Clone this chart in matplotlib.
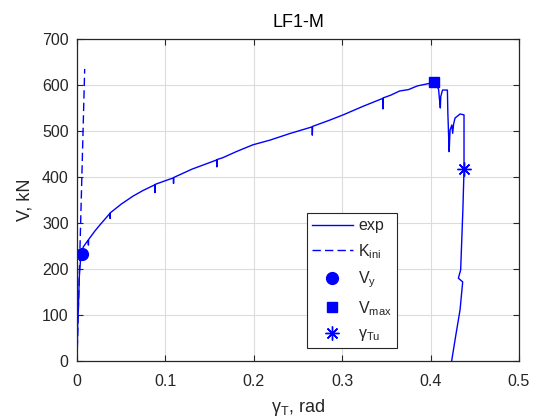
import matplotlib
matplotlib.use("Agg")
import matplotlib.pyplot as plt

exp_x = [0, 0.0008, 0.0015, 0.0026, 0.0040, 0.0053, 0.0071, 0.0100, 0.0128, 0.0129, 0.0131,
         0.020, 0.026, 0.0373, 0.0374, 0.0376, 0.050, 0.063, 0.075, 0.088, 0.0882, 0.0885,
         0.100, 0.109, 0.1092, 0.1095, 0.130, 0.158, 0.1582, 0.1585, 0.165, 0.180, 0.199,
         0.218, 0.240, 0.266, 0.2662, 0.2665, 0.285, 0.301, 0.324, 0.346, 0.3462, 0.3465,
         0.355, 0.365, 0.375, 0.385, 0.400, 0.404, 0.409, 0.410, 0.411, 0.4115, 0.4135,
         0.419, 0.4195, 0.421, 0.4215, 0.422, 0.424, 0.425, 0.426, 0.4276, 0.4333, 0.4378,
         0.4378, 0.4365, 0.434, 0.4314, 0.4363, 0.4333, 0.428, 0.4238]
exp_v = [0, 80, 111, 183, 220, 233, 248, 256, 263, 252, 264,
         282, 296, 321, 310, 322, 341, 358, 371, 383, 366, 384,
         392, 398, 386, 399, 417, 437, 422, 438, 442, 455, 470,
         480, 494, 509, 491, 510, 523, 535, 554, 571, 548, 572,
         578, 587, 590, 598, 604, 606, 591, 570, 550, 575, 589,
         589, 540, 455, 480, 502, 513, 495, 515, 528, 537, 535,
         415, 328, 198, 180, 172, 111, 50, 0]

kini_x = [0, 0.0087]
kini_v = [0, 635]

vy = (0.0053, 233)
vmax = (0.404, 606)
gamma_tu = (0.438, 417)

xticks = [0, 0.1, 0.2, 0.3, 0.4, 0.5]
xticklabels = ["0", "0.1", "0.2", "0.3", "0.4", "0.5"]
yticks = [0, 100, 200, 300, 400, 500, 600, 700]

plt.rcParams["font.family"] = ["Liberation Sans", "DejaVu Sans"]
plt.rcParams["mathtext.fontset"] = "custom"
plt.rcParams["mathtext.rm"] = "Liberation Sans"
plt.rcParams["mathtext.it"] = "Liberation Sans"

dark = "#262626"
fig = plt.figure(figsize=(5.37, 4.17), dpi=100)
ax = fig.add_axes([77 / 537, 56 / 417, 442 / 537, 322 / 417])

ax.plot(exp_x, exp_v, color="b", lw=1.0, label="exp")
ax.plot(kini_x, kini_v, color="b", lw=1.0, dashes=(6, 3), label=r"K$_{\mathrm{ini}}$")
ax.plot(*vy, "o", color="b", ms=8.5, ls="none", label=r"V$_{\mathrm{y}}$")
ax.plot(*vmax, "s", color="b", ms=7, ls="none", label=r"V$_{\mathrm{max}}$")
ax.plot(*gamma_tu, marker=(8, 2, 0), color="b", mec="b", ms=10, mew=1.0, ls="none",
        label="γ$_{\\mathrm{Tu}}$")

ax.set_xlim(0, 0.5)
ax.set_ylim(0, 700)
ax.set_xticks(xticks)
ax.set_xticklabels(xticklabels)
ax.set_yticks(yticks)
ax.grid(True, color="#dcdcdc", lw=0.8)
ax.set_axisbelow(True)
ax.tick_params(direction="in", top=True, right=True, length=4, width=0.8,
               colors=dark, labelsize=11.5)
ax.tick_params(axis="x", pad=9)
ax.tick_params(axis="y", pad=6)
for s in ax.spines.values():
    s.set_color(dark)
    s.set_linewidth(0.9)

ax.set_xlabel("γ$_{\\mathrm{T}}$, rad", fontsize=13, color=dark, labelpad=6)
ax.set_ylabel("V, kN", fontsize=13, color=dark, labelpad=6)
ax.set_title("LF1-M", fontsize=13, color="black", pad=9)

leg = ax.legend(loc="lower left", bbox_to_anchor=(0.52, 0.04), borderaxespad=0,
                fontsize=11.5, fancybox=False, edgecolor=dark, framealpha=1,
                handlelength=2.6, labelspacing=0.55, handletextpad=0.3,
                borderpad=0.3)
leg.get_frame().set_linewidth(0.8)
for t in leg.get_texts():
    t.set_color(dark)

fig.savefig("out.png", dpi=100)
